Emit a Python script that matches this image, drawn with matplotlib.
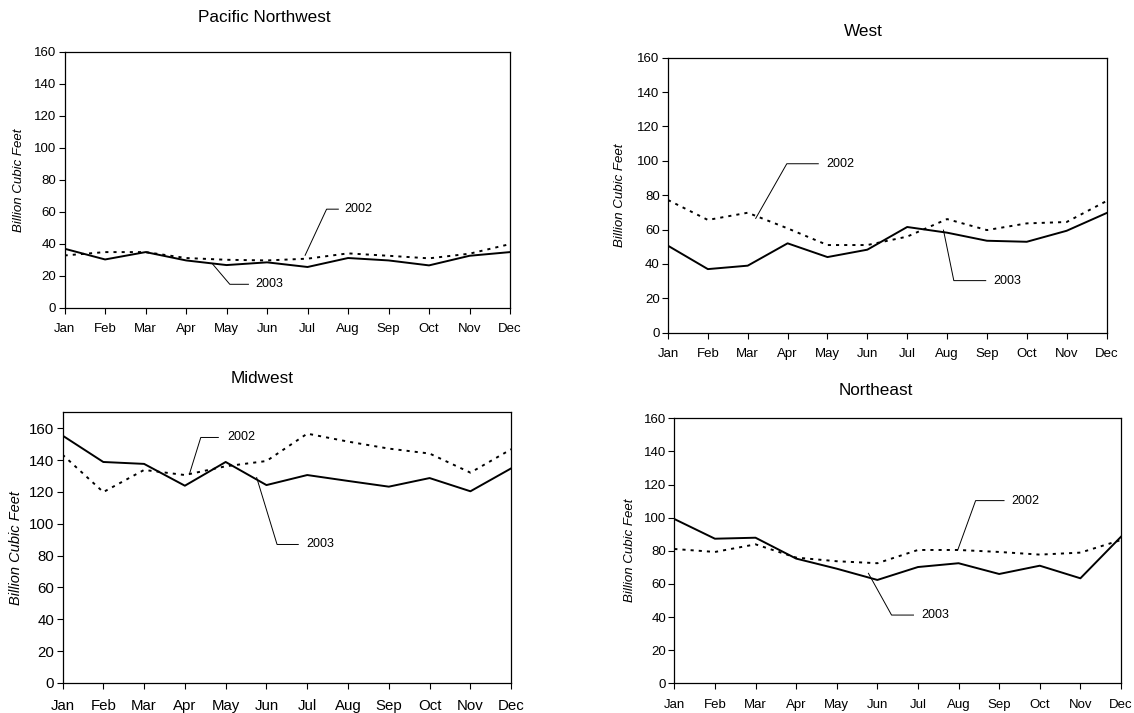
import matplotlib
matplotlib.use("Agg")
import matplotlib.pyplot as plt

plt.rcParams.update({
    "font.family": ["Liberation Sans", "DejaVu Sans"],
    "font.size": 9.5,
})

MONTHS = ["Jan", "Feb", "Mar", "Apr", "May", "Jun",
          "Jul", "Aug", "Sep", "Oct", "Nov", "Dec"]
REGIONS = ["Pacific Northwest", "West", "Midwest", "Northeast"]

# Billion cubic feet
pnw_2002 = [32.8, 34.9, 34.9, 31.2, 30.1, 29.7, 30.8, 34.1, 32.6, 31.0, 33.9, 39.9]
pnw_2003 = [37.0, 30.3, 34.9, 29.7, 26.8, 28.5, 25.6, 31.2, 29.7, 26.6, 32.6, 34.9]
west_2002 = [77.2, 65.6, 69.8, 60.7, 51.0, 51.0, 55.9, 66.1, 59.7, 63.6, 64.4, 76.6]
west_2003 = [50.6, 37.0, 39.0, 52.0, 44.0, 48.3, 61.5, 58.2, 53.5, 52.9, 59.3, 69.6]
mw_2002 = [143.4, 119.9, 133.8, 130.6, 136.1, 139.4, 156.6, 151.6, 147.2, 144.1, 132.1, 146.8]
mw_2003 = [155.4, 138.8, 137.6, 123.9, 138.8, 124.3, 130.6, 126.9, 123.3, 128.7, 120.4, 134.8]
ne_2002 = [81.1, 79.3, 83.9, 75.9, 73.7, 72.5, 80.5, 80.5, 79.3, 77.7, 78.9, 86.5]
ne_2003 = [99.2, 87.3, 87.9, 75.3, 69.2, 62.4, 70.2, 72.5, 66.0, 71.0, 63.4, 88.5]

SERIES = {
    "Pacific Northwest": (pnw_2002, pnw_2003),
    "West": (west_2002, west_2003),
    "Midwest": (mw_2002, mw_2003),
    "Northeast": (ne_2002, ne_2003),
}
YMAX = {"Pacific Northwest": 160, "West": 160, "Midwest": 170, "Northeast": 160}

W, H = 1134, 713
# axes boxes in pixels: left, top, right, bottom
BOXES = {
    "Pacific Northwest": (64.6, 51.7, 510.0, 308.0),
    "West": (668.0, 57.7, 1106.5, 332.7),
    "Midwest": (62.5, 412.3, 511.2, 683.0),
    "Northeast": (674.3, 418.3, 1121.0, 683.3),
}
TITLE_POS = {
    "Pacific Northwest": (264, 17),
    "West": (863, 31),
    "Midwest": (262.5, 378),
    "Northeast": (876, 390),
}
# per-panel text sizes / offsets (tick font, ylabel font, x label pad, ylabel offset px)
STYLE = {
    "Pacific Northwest": (9.5, 9.5, 7, 40),
    "West": (9.5, 9.5, 7, 42),
    "Midwest": (10.8, 10.5, 7.5, 40),
    "Northeast": (9.5, 9.5, 7, 38),
}
# callout leaders (data coords): point, elbow, end of tick, text x
CALLOUTS = {
    "Pacific Northwest": [("2002", (5.94, 32.9), (6.47, 61.7), 6.76, 6.92),
                          ("2003", (3.66, 27.3), (4.08, 14.8), 4.54, 4.70)],
    "West": [("2002", (2.20, 66.5), (2.98, 98.3), 3.77, 3.96),
             ("2003", (6.91, 59.7), (7.17, 30.3), 7.97, 8.16)],
    "Midwest": [("2002", (3.11, 131.1), (3.39, 154.2), 3.82, 4.04),
                ("2003", (4.76, 129.0), (5.26, 87.0), 5.78, 5.97)],
    "Northeast": [("2002", (6.98, 80.5), (7.42, 110.3), 8.12, 8.31),
                  ("2003", (4.78, 66.4), (5.35, 41.2), 5.89, 6.09)],
}

fig = plt.figure(figsize=(W / 100, H / 100), dpi=100)

for name in REGIONS:
    l, t, r, b = BOXES[name]
    tick_fs, lab_fs, xpad, yoff = STYLE[name]
    ax = fig.add_axes([l / W, 1 - b / H, (r - l) / W, (b - t) / H])
    y02, y03 = SERIES[name]
    x = range(len(MONTHS))
    ax.plot(x, y02, color="black", lw=1.4, linestyle=(0, (1.6, 2.6)))
    ax.plot(x, y03, color="black", lw=1.4)

    ax.set_xlim(0, 11)
    ax.set_ylim(0, YMAX[name])
    ax.set_xticks(list(x))
    ax.set_xticklabels(MONTHS)
    ax.set_yticks(range(0, 161, 20))
    ax.tick_params(axis="y", labelsize=tick_fs, length=4, width=0.8, pad=2)
    ax.tick_params(axis="x", labelsize=tick_fs, length=4, width=0.8, pad=xpad)
    for s in ax.spines.values():
        s.set_linewidth(0.9)
    ax.set_ylabel("Billion Cubic Feet", fontsize=lab_fs, style="italic")
    ax.yaxis.set_label_coords(-yoff / (r - l), 0.5)

    for label, p, e, xend, xt in CALLOUTS[name]:
        ax.plot([p[0], e[0], xend], [p[1], e[1], e[1]],
                color="black", lw=0.7)
        ax.text(xt, e[1], label, fontsize=9, va="center", ha="left")

    tx, ty = TITLE_POS[name]
    fig.text(tx / W, 1 - ty / H, name, fontsize=12.3, ha="center", va="center")

fig.savefig("out.png", dpi=100)
